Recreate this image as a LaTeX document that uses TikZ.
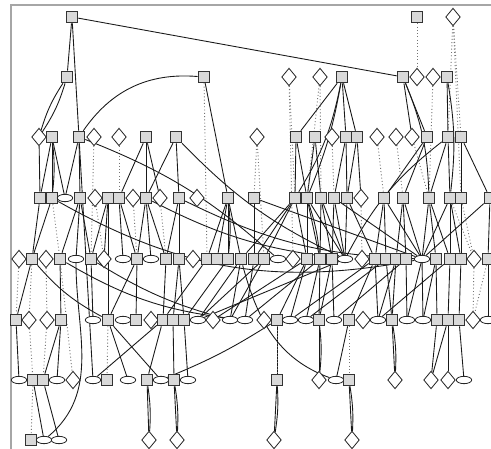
\documentclass[tikz,border=0pt]{standalone}
\usetikzlibrary{shapes.geometric,backgrounds}
\begin{document}
\begin{tikzpicture}[x=0.3mm,y=0.3mm,
  sq/.style={draw=black!80, fill=gray!30, rectangle, minimum size=3.5mm, inner sep=0pt, line width=0.8pt},
  dm/.style={draw=black!85, fill=white, diamond, minimum width=4.4mm, minimum height=5.3mm, inner sep=0pt, line width=0.7pt},
  el/.style={draw=black!85, fill=white, ellipse, minimum width=4.6mm, minimum height=2.2mm, inner sep=0pt, line width=0.7pt},
  ln/.style={draw=black!90, line width=0.75pt},
  dt/.style={draw=black!55, dotted, line width=0.8pt},
]
\useasboundingbox (0,0) rectangle (491,-449);
\draw[gray!70, line width=0.9pt] (491,-5) -- (11,-5) -- (11,-449);

% rows of nodes
\foreach \n/\s/\x in {a1/sq/72, a2/sq/417, a3/dm/453}
  \node[\s] (\n) at (\x,-17) {};
\foreach \n/\s/\x in {b1/sq/67, b2/sq/204, b3/dm/289, b4/dm/320, b5/sq/342, b6/sq/403, b7/dm/417, b8/dm/433, b9/sq/447}
  \node[\s] (\n) at (\x,-77) {};
\foreach \n/\s/\x in {c1/dm/39, c2/sq/52, c3/sq/79, c4/dm/94, c5/dm/119, c6/sq/146, c7/sq/176, c8/dm/257, c9/sq/296,
    c10/sq/315, c11/dm/332, c12/sq/346, c13/sq/357, c14/dm/377, c15/dm/396, c16/dm/412, c17/sq/427, c18/sq/448, c19/sq/461}
  \node[\s] (\n) at (\x,-137) {};
\foreach \n/\s/\x in {d1/sq/40, d2/sq/52, d3/el/65, d4/sq/80, d5/dm/95, d6/sq/108, d7/sq/119, d8/dm/133, d9/sq/146,
    d10/dm/160, d11/sq/179, d12/dm/197, d13/sq/228, d14/sq/254, d15/sq/295, d16/sq/307, d17/sq/321, d18/sq/334,
    d19/sq/347, d20/dm/361, d21/sq/384, d22/sq/403, d23/sq/429, d24/sq/450, d25/sq/461, d26/sq/490}
  \node[\s] (\n) at (\x,-198) {};
\foreach \n/\s/\x in {e1/dm/19, e2/sq/32, e3/dm/46, e4/sq/60, e5/el/76, e6/sq/91, e7/dm/104, e8/el/123, e9/sq/137,
    e10/el/151, e11/sq/166, e12/sq/179, e13/dm/193, e14/sq/207, e15/sq/217, e16/sq/228, e17/sq/241, e18/sq/254,
    e19/sq/264, e20/el/278, e21/dm/293, e22/sq/307, e23/sq/320, e24/sq/332, e25/el/345, e26/dm/362, e27/sq/375,
    e28/sq/386, e29/sq/396, e30/sq/406, e31/el/422, e32/sq/436, e33/sq/450, e34/sq/461, e35/dm/474, e36/sq/488}
  \node[\s] (\n) at (\x,-259) {};
\foreach \n/\s/\x in {f1/sq/16, f2/dm/29, f3/dm/47, f4/sq/61, f5/el/93, f6/sq/108, f7/el/123, f8/sq/136, f9/dm/151,
    f10/sq/163, f11/sq/173, f12/sq/184, f13/el/198, f14/dm/213, f15/el/230, f16/el/245, f17/dm/264, f18/sq/277,
    f19/el/290, f20/el/306, f21/sq/319, f22/el/334, f23/sq/349, f24/dm/363, f25/el/378, f26/sq/392, f27/el/407,
    f28/el/423, f29/sq/437, f30/sq/448, f31/sq/459, f32/dm/473, f33/el/488}
  \node[\s] (\n) at (\x,-320) {};
\foreach \n/\s/\x in {g1/el/19, g2/sq/33, g3/sq/43, g4/el/57, g5/dm/73, g6/el/93, g7/sq/107, g8/el/128, g9/sq/147,
    g10/el/161, g11/sq/174, g12/el/188, g13/sq/277, g14/dm/319, g15/el/336, g16/sq/349, g17/dm/395, g18/dm/431,
    g19/dm/448, g20/el/464}
  \node[\s] (\n) at (\x,-380) {};
\foreach \n/\s/\x in {h1/sq/31, h2/el/44, h3/el/59, h4/dm/149, h5/dm/177, h6/dm/274, h7/dm/352}
  \node[\s] (\n) at (\x,-440) {};

\begin{pgfonlayer}{background}
% solid links
\foreach \s/\t in {a1/b1, a1/b6, a1/c3, b2/d13, b5/c9, b5/c12, b5/c13, b6/c16, b6/c17, b9/c18,
    c1/d1, c2/d1, c2/d2, c2/d3, c3/d3, c3/d4, c3/g6, c6/d7, c6/d9, c6/d10, c7/d9, c7/d11,
    c9/d15, c9/d16, c10/d16, c10/d17, c12/d18, c12/d19, c13/d19, c13/d20, c17/d21, c17/d22,
    c18/d23, c18/d24, c19/d25, c19/d26,
    d1/e2, d2/e2, d4/e4, d4/e5, d4/e6, d6/e6, d6/e7, d6/f6, d7/e8, d7/e9, d9/e9, d9/e10, d9/e11,
    d11/e11, d11/e12, d13/e14, d13/e15, d13/e16, d13/e17, d14/e18, d14/e31, d15/e17, d15/e18,
    d15/e19, d15/e22, d16/e22, d16/e23, d16/e25, d17/e23, d17/e24, d17/e25, d18/e24, d18/e25,
    d18/e31, d19/e25, d19/e27, d21/e27, d21/e28, d21/e31, d22/e29, d22/e30, d22/e31, d23/e31,
    d23/e32, d23/e33, d24/e33, d24/e34, d24/e31, d25/e34, d26/e36, d26/e31,
    e2/f1, e4/f4, e6/f5, e9/f8, e9/f6, e11/f10, e12/f11, e12/f12, e14/f10, e16/f12, e17/f13,
    e17/f15, e18/f16, e19/f15, e22/f18, e22/f19, e23/f20, e23/f21, e24/f21, e24/f22, e27/f23,
    e27/f25, e28/f26, e29/f26, e30/f27, e31/f27, e31/f28, e32/f28, e32/f29, e33/f30, e34/f31, e36/f33,
    e27/f19, e28/f20, e30/f22, e29/f25, e23/f16, e25/f13, e22/f14, e19/f13, e33/f25,
    f1/g1, f4/g3, f4/g4, f6/g8, f6/g10, f10/g6, f10/g9, f11/g11, f12/g12, f18/g13, f21/g14,
    f23/g15, f26/g17, f29/g18, f30/g18, f30/g19, f31/g20,
    g2/h2, g3/h3, g9/h4, g11/h5, g13/h6, g16/h7}
  \draw[ln] (\s) -- (\t);
% doubled links
\foreach \s/\t in {c2/d2, f21/g14, f26/g17, g9/h4, g11/h5, g13/h6, g16/h7, d13/e16, d16/e23}
  \draw[ln] (\s) to[bend left=6] (\t);
% dotted links
\foreach \s/\t in {a2/b7, a3/c18, a3/c19, a3/d25, b2/e14, b3/d15, b3/e21, b4/d16, b4/d17, b8/d23,
    c4/e6, c5/d7, c8/d14, c8/e19, c11/d18, c14/d21, c15/d22, c16/d23, d2/e4, d5/e7, d8/e9,
    d10/e11, d20/e26, d25/e35, d24/e35, e1/f1, e2/f2, e3/f3, e4/g5, f2/g2, f3/g3, f6/g7,
    f18/g13, f23/g16, e35/f32, e36/f32, g2/h1}
  \draw[dt] (\s) -- (\t);
% long bent links
\draw[ln] (b1) to[bend left=8] (c1);
\draw[ln] (b1) to[bend right=8] (c1);
\draw[ln] (b2) to[bend right=30] (c3);
\draw[ln] (b5) to[bend left=10] (d15);
\draw[ln] (b5) to[bend left=6] (d16);
\draw[ln] (b6) to[bend left=10] (d23);
\draw[ln] (b9) to[bend left=8] (d24);
\draw[ln] (c3) to[bend left=10] (e20);
\draw[ln] (c7) to[bend right=10] (e25);
\draw[ln] (c18) to[bend right=12] (e25);
\draw[ln] (d2) to[bend right=20] (e31);
\draw[ln] (d11) to[bend right=12] (e31);
\draw[ln] (d9) to[bend right=10] (e25);
\draw[ln] (e2) to[bend right=10] (f6);
\draw[ln] (e4) to[bend right=12] (f16);
\draw[ln] (e6) to[bend right=8] (f15);
\draw[ln] (g10) to[bend right=5] (f18);
\draw[ln] (e17) to[out=-75,in=160] (g15);
\draw[ln] (h2) to[out=40,in=-90] (e5);
\end{pgfonlayer}
\end{tikzpicture}
\end{document}
